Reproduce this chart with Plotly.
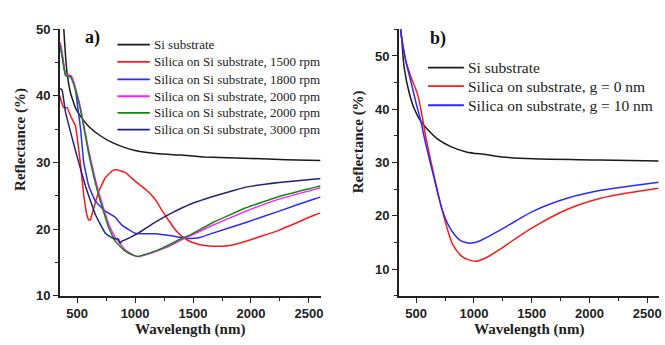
import plotly.graph_objects as go

W, H = 665, 345

# ---------------- Panel a data ----------------
a_names = ["Si substrate",
           "Silica on Si substrate, 1500 rpm",
           "Silica on Si substrate, 1800 rpm",
           "Silica on Si substrate, 2000 rpm",
           "Silica on Si substrate, 2000 rpm",
           "Silica on Si substrate, 3000 rpm"]
a_colors = ["#1a1a1a", "#ff1a1a", "#2b2bff", "#ff1aff", "#128a12", "#22227a"]

a_si_x = [360, 375, 385, 400, 414, 443, 485, 543, 600, 700, 800, 900, 1000, 1200, 1400, 1600, 2000, 2300, 2600]
a_si_y = [58, 53, 50, 46, 43.3, 40.4, 38.2, 36.6, 35.4, 34.0, 33.0, 32.3, 31.8, 31.3, 31.1, 30.8, 30.6, 30.4, 30.3]

a_1500_x = [350, 370, 385, 414, 443, 485, 528, 557, 586, 600, 615, 628, 685, 743, 800, 840, 914, 1000, 1114, 1180, 1229, 1290, 1343, 1400, 1457, 1529, 1600, 1671, 1750, 1814, 1957, 2100, 2243, 2414, 2558, 2600]
a_1500_y = [40.0, 38.8, 38.2, 38.2, 37.0, 35.5, 29.9, 25.1, 22.0, 21.4, 21.4, 22.2, 25.6, 27.7, 28.7, 28.9, 28.5, 27.2, 25.6, 24.3, 22.9, 21.3, 20.0, 19.0, 18.3, 17.8, 17.55, 17.45, 17.45, 17.55, 18.2, 19.0, 19.85, 21.1, 22.2, 22.4]

a_1800_x = [355, 380, 400, 430, 460, 485, 500, 530, 557, 600, 657, 743, 828, 886, 1000, 1171, 1314, 1457, 1550, 1671, 1957, 2243, 2558, 2600]
a_1800_y = [47.5, 45.0, 43.2, 43.0, 42.5, 41.0, 39.0, 35.0, 30.0, 26.5, 24.2, 22.7, 21.8, 20.6, 19.4, 19.3, 19.0, 18.6, 18.7, 19.4, 21.0, 22.7, 24.6, 24.8]

a_2000m_x = [355, 375, 400, 450, 485, 528, 600, 685, 771, 828, 914, 1000, 1028, 1100, 1200, 1300, 1400, 1500, 1671, 1957, 2243, 2558, 2600]
a_2000m_y = [48.0, 46.0, 43.2, 43.0, 41.2, 38.3, 31.8, 25.6, 20.8, 18.8, 16.9, 16.0, 15.9, 16.2, 16.8, 17.5, 18.4, 19.2, 20.6, 22.7, 24.5, 26.0, 26.2]

a_2000g_x = [352, 370, 400, 443, 485, 528, 600, 685, 771, 828, 914, 980, 1028, 1100, 1200, 1300, 1400, 1471, 1671, 1957, 2243, 2558, 2600]
a_2000g_y = [47.5, 46.0, 43.0, 42.8, 40.9, 38.0, 31.3, 25.1, 20.3, 18.2, 16.7, 16.1, 15.9, 16.3, 16.9, 17.7, 18.6, 19.1, 21.0, 23.2, 24.9, 26.3, 26.5]

a_3000_x = [355, 371, 400, 428, 485, 571, 657, 743, 814, 857, 870, 885, 914, 1028, 1171, 1314, 1486, 1671, 1850, 1957, 2243, 2558, 2600]
a_3000_y = [41.1, 40.8, 37.5, 35.6, 31.8, 26.5, 22.2, 19.4, 18.6, 18.5, 17.9, 18.2, 18.4, 19.4, 21.0, 22.4, 23.8, 24.9, 25.8, 26.3, 27.0, 27.5, 27.6]

a_x = [a_si_x, a_1500_x, a_1800_x, a_2000m_x, a_2000g_x, a_3000_x]
a_y = [a_si_y, a_1500_y, a_1800_y, a_2000m_y, a_2000g_y, a_3000_y]

# ---------------- Panel b data ----------------
b_names = ["Si substrate", "Silica on substrate, g = 0 nm", "Silica on substrate, g = 10 nm"]
b_colors = ["#1a1a1a", "#ff1a1a", "#2b2bff"]

b_si_x = [360, 375, 395, 439, 483, 541, 599, 686, 800, 934, 1100, 1224, 1515, 2097, 2600]
b_si_y = [56, 53, 47.9, 43.1, 40.1, 37.7, 36.2, 34.4, 33.0, 32.0, 31.5, 31.1, 30.7, 30.5, 30.3]

b_g0_x = [360, 370, 410, 454, 512, 555, 584, 650, 720, 773, 817, 890, 950, 1021, 1100, 1224, 1350, 1515, 1806, 2097, 2388, 2600]
b_g0_y = [56, 54, 49.1, 46.1, 42.8, 38.3, 34.7, 28.0, 21.5, 17.3, 14.6, 12.5, 11.8, 11.5, 12.1, 13.7, 15.6, 17.9, 21.2, 23.3, 24.5, 25.2]

b_g10_x = [360, 370, 410, 454, 497, 541, 570, 650, 720, 788, 875, 930, 977, 1050, 1224, 1350, 1515, 1806, 2097, 2388, 2600]
b_g10_y = [56, 54, 49.0, 45.2, 41.3, 37.7, 34.7, 27.5, 21.5, 17.9, 15.5, 15.0, 14.9, 15.3, 17.3, 18.9, 20.9, 23.3, 24.8, 25.7, 26.3]

b_x = [b_si_x, b_g0_x, b_g10_x]
b_y = [b_si_y, b_g0_y, b_g10_y]

# ---------------- Figure ----------------
fig = go.Figure()
for xs, ys, c, n in zip(a_x, a_y, a_colors, a_names):
    fig.add_trace(go.Scatter(x=xs, y=ys, mode="lines", name=n, showlegend=False,
                             line=dict(color=c, width=1.5, shape="spline", smoothing=0.3),
                             xaxis="x", yaxis="y"))
for xs, ys, c, n in zip(b_x, b_y, b_colors, b_names):
    fig.add_trace(go.Scatter(x=xs, y=ys, mode="lines", name=n, showlegend=False,
                             line=dict(color=c, width=1.5, shape="spline", smoothing=0.8),
                             xaxis="x2", yaxis="y2"))

def px(x):
    return x / W

def py(y):
    return 1 - y / H

SERIF = "Times New Roman, Liberation Serif, serif"
SANS = "Arial, Liberation Sans, sans-serif"

tickfont = dict(family=SANS, size=13, color="#222", weight="bold")
common_x = dict(range=[350, 2600], tickmode="linear", tick0=500, dtick=500,
                showline=True, linecolor="#222", linewidth=1.5, ticks="outside",
                ticklen=5, tickwidth=1.3, tickcolor="#222", showgrid=False, zeroline=False,
                tickfont=tickfont,
                minor=dict(ticks="outside", ticklen=3, tickwidth=1.1, tickcolor="#222",
                           tick0=250, dtick=250, showgrid=False))
common_y = dict(showline=True, linecolor="#222", linewidth=1.5, ticks="outside",
                ticklen=5, tickwidth=1.3, tickcolor="#222", showgrid=False, zeroline=False,
                tickfont=tickfont,
                minor=dict(ticks="outside", ticklen=3, tickwidth=1.1, tickcolor="#222",
                           tick0=5, dtick=5, showgrid=False))

fig.update_layout(
    width=W, height=H,
    autosize=False,
    margin=dict(l=0, r=0, t=0, b=0),
    paper_bgcolor="white", plot_bgcolor="white",
    showlegend=False,
    font=dict(family=SERIF),
    xaxis=dict(domain=[px(60), px(322)], anchor="y", **common_x),
    yaxis=dict(domain=[py(302), py(23)], anchor="x", range=[10, 50],
               tick0=10, dtick=10, **common_y),
    xaxis2=dict(domain=[px(400.7), px(661.7)], anchor="y2", **common_x),
    yaxis2=dict(domain=[py(302), py(23.3)], anchor="x2", range=[5, 55],
                tick0=10, dtick=10, **common_y),
)

title_font = dict(family=SERIF, size=15, color="#222", weight="bold")
ann = []
# axis titles
ann.append(dict(text="Wavelength (nm)", x=px(191), y=py(337), xref="paper", yref="paper",
                xanchor="center", yanchor="middle", showarrow=False, font=title_font))
ann.append(dict(text="Wavelength (nm)", x=px(531), y=py(337), xref="paper", yref="paper",
                xanchor="center", yanchor="middle", showarrow=False, font=title_font))
ann.append(dict(text="Reflectance (%)", x=px(20), y=py(138), xref="paper", yref="paper",
                xanchor="center", yanchor="middle", showarrow=False, textangle=-90, font=title_font))
ann.append(dict(text="Reflectance (%)", x=px(360), y=py(141), xref="paper", yref="paper",
                xanchor="center", yanchor="middle", showarrow=False, textangle=-90, font=title_font))
# panel labels
lab_font = dict(family=SERIF, size=18, color="#111", weight="bold")
ann.append(dict(text="a)", x=px(93), y=py(32), xref="paper", yref="paper",
                xanchor="center", yanchor="middle", showarrow=False, font=lab_font))
ann.append(dict(text="b)", x=px(440), y=py(33), xref="paper", yref="paper",
                xanchor="center", yanchor="middle", showarrow=False, font=lab_font))

shapes = []
# legend a
a_rows = [39.3, 57.3, 75.7, 93.3, 110.7, 128.3]
for n, c, r in zip(a_names, a_colors, a_rows):
    shapes.append(dict(type="line", xref="paper", yref="paper", x0=px(118), x1=px(150.5),
                       y0=py(r), y1=py(r), line=dict(color=c, width=1.8)))
    ann.append(dict(text=n, x=px(153), y=py(r), xref="paper", yref="paper",
                    xanchor="left", yanchor="middle", showarrow=False,
                    font=dict(family=SERIF, size=13, color="#222")))
# legend b
b_rows = [63.3, 82.7, 102.7]
for n, c, r in zip(b_names, b_colors, b_rows):
    shapes.append(dict(type="line", xref="paper", yref="paper", x0=px(430), x1=px(466),
                       y0=py(r), y1=py(r), line=dict(color=c, width=1.8)))
    ann.append(dict(text=n, x=px(468.5), y=py(r), xref="paper", yref="paper",
                    xanchor="left", yanchor="middle", showarrow=False,
                    font=dict(family=SERIF, size=15.5, color="#222")))

fig.update_layout(annotations=ann, shapes=shapes)
fig.write_html("out.html", config={"responsive": False, "displayModeBar": False},
               post_script="document.body.style.margin='0';document.body.style.padding='0';")
